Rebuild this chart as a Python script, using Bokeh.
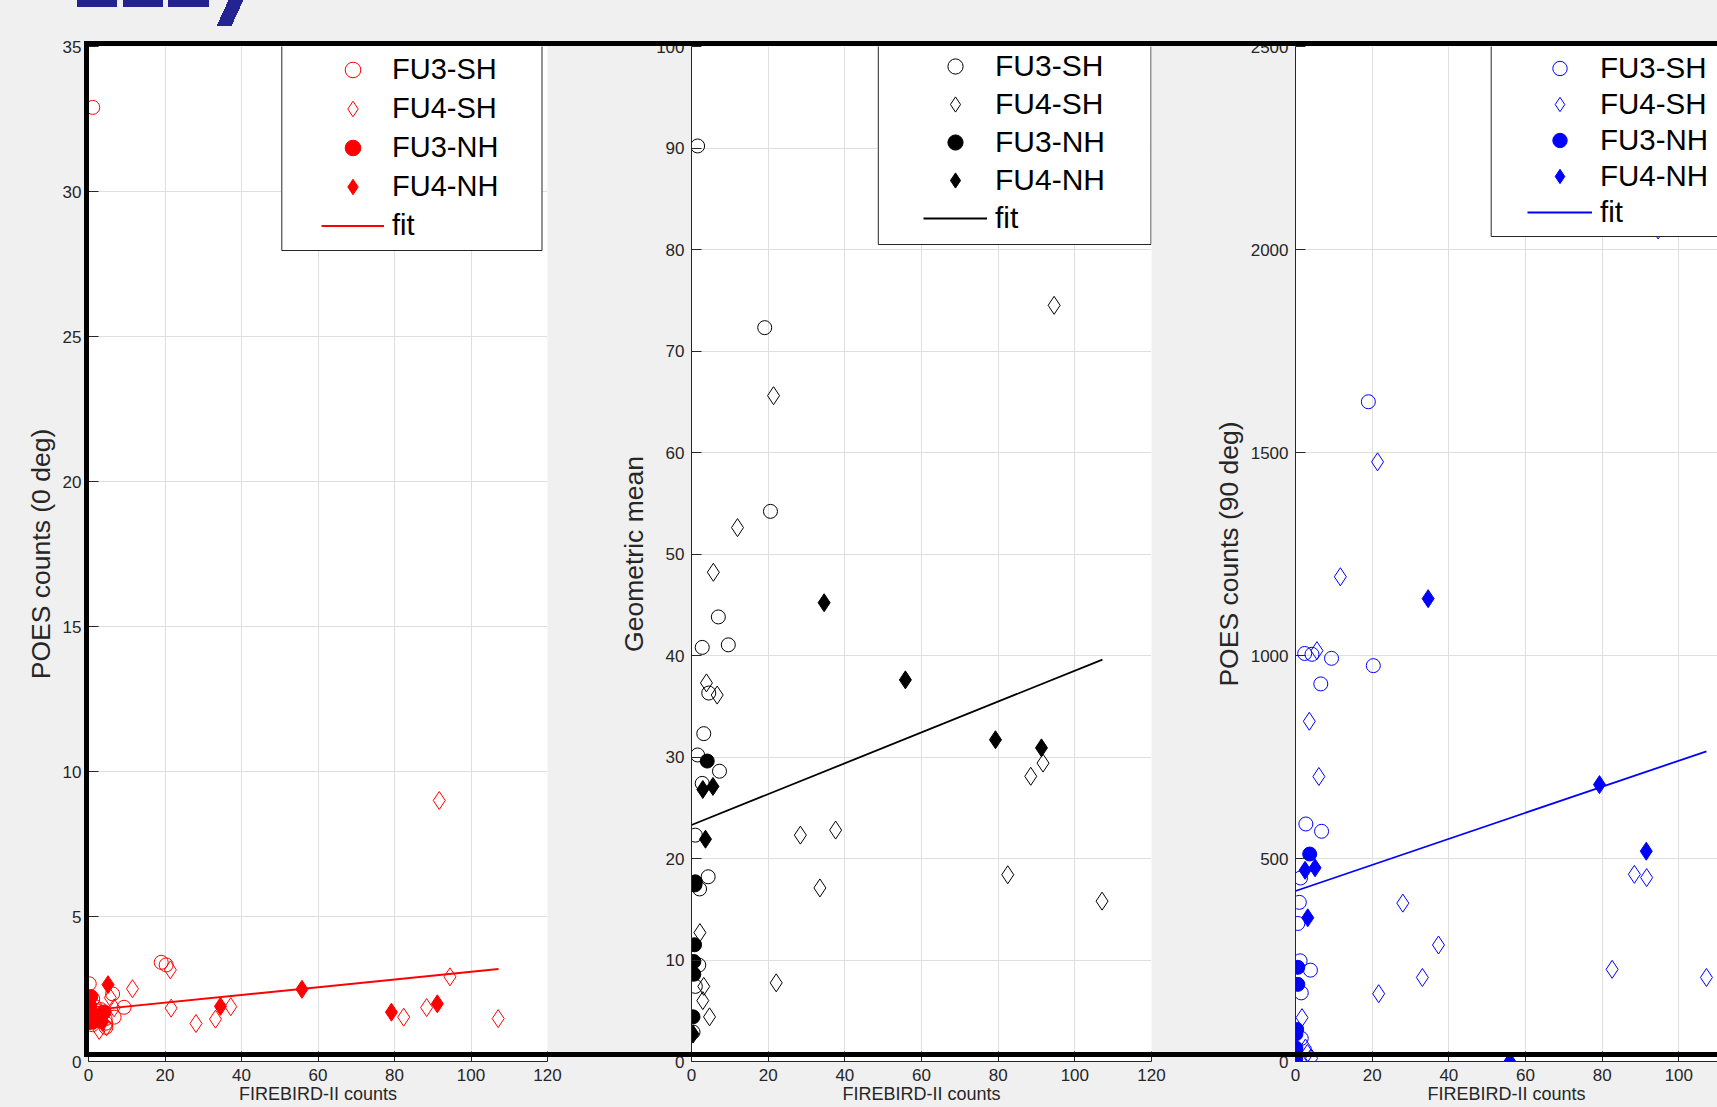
from bokeh.plotting import figure
from bokeh.layouts import row
from bokeh.models import (Range1d, FixedTicker, Legend, LegendItem, BoxAnnotation)
from bokeh.embed import file_html
from bokeh.resources import INLINE

# ---------------- data ----------------
x_ticks = [0, 20, 40, 60, 80, 100, 120]
series_names = ["FU3-SH", "FU4-SH", "FU3-NH", "FU4-NH", "fit"]
x_label = "FIREBIRD-II counts"

# Panel 1: POES counts (0 deg)
p1_ylabel = "POES counts (0 deg)"
p1_yticks = [0, 5, 10, 15, 20, 25, 30, 35]
p1_fu3sh_x = [1.1, 19.0, 20.3, 0.2, 1.1, 6.3, 9.3, 6.7, 4.55, 2.8, 4.5, 3.2, 1.0, 4.35, 2.1, 1.6, 2.8]
p1_fu3sh_y = [32.9, 3.42, 3.33, 2.68, 2.16, 2.33, 1.87, 1.53, 1.18, 1.66, 1.32, 1.79, 1.27, 1.47, 1.75, 1.9, 1.4]
p1_fu4sh_x = [11.5, 21.4, 21.6, 28.1, 33.2, 37.2, 82.4, 88.4, 94.5, 91.7, 107.1, 2.8, 5.7, 3.9, 6.7, 2.2, 3.2, 4.7]
p1_fu4sh_y = [2.51, 3.16, 1.84, 1.31, 1.46, 1.89, 1.53, 1.86, 2.92, 9.0, 1.48, 1.07, 2.2, 1.6, 1.85, 1.5, 1.65, 1.2]
p1_fu3nh_x = [4.1, 1.0, 0.9, 0.8, 0.6, 0.6, 0.4]
p1_fu3nh_y = [1.71, 1.35, 1.59, 1.67, 1.43, 2.24, 1.9]
p1_fu4nh_x = [34.5, 55.8, 79.2, 91.2, 5.1, 2.95, 3.65, 0.4]
p1_fu4nh_y = [1.9, 2.49, 1.70, 1.99, 2.65, 1.54, 1.35, 1.4]
p1_fit_x = [0.0, 107.2]
p1_fit_y = [1.76, 3.19]

# Panel 2: Geometric mean
p2_ylabel = "Geometric mean"
p2_yticks = [0, 10, 20, 30, 40, 50, 60, 70, 80, 90, 100]
p2_fu3sh_x = [1.6, 19.1, 20.6, 7.0, 2.8, 9.6, 4.5, 3.2, 1.6, 7.3, 2.8, 1.0, 4.35, 2.1, 1.9, 1.0, 0.4]
p2_fu3sh_y = [90.2, 72.3, 54.2, 43.8, 40.8, 41.05, 36.3, 32.3, 30.2, 28.6, 27.4, 22.3, 18.2, 17.0, 9.5, 7.4, 2.9]
p2_fu4sh_x = [12.0, 21.4, 5.7, 3.9, 6.7, 94.6, 88.5, 91.7, 28.4, 37.6, 33.5, 82.5, 107.1, 22.1, 2.2, 3.2, 2.95, 4.7]
p2_fu4sh_y = [52.6, 65.6, 48.2, 37.3, 36.1, 74.5, 28.1, 29.4, 22.3, 22.8, 17.1, 18.4, 15.8, 7.75, 12.7, 7.4, 6.0, 4.4]
p2_fu3nh_x = [4.1, 1.0, 0.9, 0.8, 0.6, 0.6, 0.4]
p2_fu3nh_y = [29.6, 17.7, 17.4, 11.5, 9.85, 8.6, 4.4]
p2_fu4nh_x = [34.6, 55.8, 79.3, 91.3, 2.95, 5.6, 3.65, 0.4]
p2_fu4nh_y = [45.2, 37.6, 31.7, 30.9, 26.8, 27.1, 21.9, 2.7]
p2_fit_x = [0.0, 107.2]
p2_fit_y = [23.3, 39.6]

# Panel 3: POES counts (90 deg)
p3_ylabel = "POES counts (90 deg)"
p3_yticks = [0, 500, 1000, 1500, 2000, 2500]
p3_fu3sh_x = [19.0, 2.4, 4.3, 9.4, 20.3, 6.6, 2.7, 6.8, 1.3, 1.0, 0.6, 3.9, 1.5, 1.5, 1.2]
p3_fu3sh_y = [1625, 1005, 1003, 993, 975, 930, 585, 567, 452, 392, 340, 225, 169, 57, 248]
p3_fu4sh_x = [21.4, 11.7, 5.6, 3.6, 6.1, 28.0, 37.3, 33.1, 21.7, 82.6, 88.4, 91.6, 107.2, 94.6, 1.7, 2.6, 4.2, 3.1]
p3_fu4sh_y = [1477, 1194, 1012, 838, 702, 390, 287, 207, 167, 227, 461, 453, 207, 2048, 108, 33, 8, 20]
p3_fu3nh_x = [3.7, 0.6, 0.6, 0.3, 0.1, 0.1, 0.05]
p3_fu3nh_y = [511, 232, 190, 79, 68, 33, 5]
p3_fu4nh_x = [34.6, 55.9, 79.3, 91.5, 2.5, 5.1, 3.2, 0.05]
p3_fu4nh_y = [1140, 0, 682, 518, 471, 477, 354, 18]
p3_fit_x = [0.0, 107.2]
p3_fit_y = [420, 764]

# ---------------- styling / layout ----------------
BG = "#f0f0f0"
AX = "#262626"
GRID = "#dfdfdf"
NAVY = "#232392"
FONT = "Liberation Sans"
TOTAL_H = 1107
FRAME_TOP = 46
BOTTOM = 46
FRAME_BOTTOM = TOTAL_H - BOTTOM

panels = [
    dict(data=(p1_fu3sh_x, p1_fu3sh_y, p1_fu4sh_x, p1_fu4sh_y, p1_fu3nh_x, p1_fu3nh_y,
               p1_fu4nh_x, p1_fu4nh_y, p1_fit_x, p1_fit_y),
         ylabel=p1_ylabel, yticks=p1_yticks, color="#ff0000",
         canvas_left=0, bl=88, fw=459, br=63, x_end=120,
         leg=dict(glyph_left=321, glyph_w=63, standoff=8, row_h=39, first_top=50,
                  box=(281.3, 541.5, 30, 250), fs="29px")),
    dict(data=(p2_fu3sh_x, p2_fu3sh_y, p2_fu4sh_x, p2_fu4sh_y, p2_fu3nh_x, p2_fu3nh_y,
               p2_fu4nh_x, p2_fu4nh_y, p2_fit_x, p2_fit_y),
         ylabel=p2_ylabel, yticks=p2_yticks, color="#000000",
         canvas_left=610, bl=81, fw=460, br=49, x_end=120,
         leg=dict(glyph_left=923, glyph_w=64, standoff=8, row_h=38, first_top=47,
                  box=(877.8, 1150.5, 30, 244), fs="30px")),
    dict(data=(p3_fu3sh_x, p3_fu3sh_y, p3_fu4sh_x, p3_fu4sh_y, p3_fu3nh_x, p3_fu3nh_y,
               p3_fu4nh_x, p3_fu4nh_y, p3_fit_x, p3_fit_y),
         ylabel=p3_ylabel, yticks=p3_yticks, color="#0000ff",
         canvas_left=1200, bl=95, fw=422, br=0, x_end=120 * 422 / 460,
         leg=dict(glyph_left=1527, glyph_w=65, standoff=8, row_h=36, first_top=50,
                  box=(1490.7, 1780, 30, 236), fs="29.5px")),
]

figs = []
for i, cfg in enumerate(panels):
    width = cfg["bl"] + cfg["fw"] + cfg["br"]
    p = figure(width=width, height=TOTAL_H,
               min_border_left=cfg["bl"], min_border_right=cfg["br"],
               min_border_top=FRAME_TOP, min_border_bottom=BOTTOM,
               x_range=Range1d(0, cfg["x_end"]), y_range=Range1d(cfg["yticks"][0], cfg["yticks"][-1]),
               output_backend="svg", toolbar_location=None,
               background_fill_color="white", border_fill_color=BG,
               outline_line_color=None,
               stylesheets=[":host { background-color: %s; }" % BG])
    p.xaxis.ticker = FixedTicker(ticks=x_ticks)
    p.yaxis.ticker = FixedTicker(ticks=cfg["yticks"])
    for ax in (p.xaxis[0], p.yaxis[0]):
        ax.axis_line_color = AX
        ax.axis_line_width = 1
        ax.major_tick_line_color = AX
        ax.major_tick_in = 10
        ax.major_tick_out = 0
        ax.minor_tick_line_color = None
        ax.major_label_text_font = FONT
        ax.major_label_text_font_size = "17px"
        ax.major_label_text_color = AX
    p.xaxis.major_label_standoff = 7
    p.yaxis.major_label_standoff = 7
    p.xaxis.axis_label = x_label
    p.xaxis.axis_label_standoff = 0
    p.xaxis.axis_label_text_font_size = "18px"
    p.yaxis.axis_label = cfg["ylabel"]
    p.yaxis.axis_label_text_font_size = "26.5px"
    p.yaxis.axis_label_standoff = 4
    for ax in (p.xaxis[0], p.yaxis[0]):
        ax.axis_label_text_font = FONT
        ax.axis_label_text_font_style = "normal"
        ax.axis_label_text_color = AX
    p.xgrid.grid_line_color = GRID
    p.ygrid.grid_line_color = GRID

    c = cfg["color"]
    (a_x, a_y, b_x, b_y, c_x, c_y, d_x, d_y, f_x, f_y) = cfg["data"]
    r1 = p.scatter(a_x, a_y, marker="circle", size=14, fill_color=None, line_color=c, line_width=1)
    r2 = p.scatter(b_x, b_y, marker="diamond", size=18, fill_color=None, line_color=c, line_width=1)
    r3 = p.scatter(c_x, c_y, marker="circle", size=14, fill_color=c, line_color=c, line_width=1)
    r4 = p.scatter(d_x, d_y, marker="diamond", size=18, fill_color=c, line_color=c, line_width=1)
    r5 = p.line(f_x, f_y, line_color=c, line_width=1.8)

    # legend frame
    lg = cfg["leg"]
    cl = cfg["canvas_left"]
    bx0, bx1, by0, by1 = lg["box"]
    p.add_layout(BoxAnnotation(left=bx0 - cl, right=bx1 - cl, top=by0, bottom=by1,
                               left_units="canvas", right_units="canvas",
                               top_units="canvas", bottom_units="canvas",
                               fill_color="white", fill_alpha=1.0,
                               line_color=AX, line_width=1, line_alpha=1.0, line_dash="solid"))
    items = [LegendItem(label=n, renderers=[r]) for n, r in zip(series_names, [r1, r2, r3, r4, r5])]
    vx = lg["glyph_left"] - (cl + cfg["bl"])
    vy = FRAME_BOTTOM - (lg["first_top"] + 5 * lg["row_h"])
    leg = Legend(items=items, location=(vx, vy), margin=0, padding=0, spacing=0,
                 glyph_width=lg["glyph_w"], glyph_height=lg["row_h"], label_height=lg["row_h"],
                 label_standoff=lg["standoff"], label_text_font=FONT,
                 label_text_font_size=lg["fs"], label_text_color="black",
                 background_fill_alpha=0, border_line_color=None)
    p.add_layout(leg)
    figs.append(p)

# page decorations drawn over the whole row: grey strip with the cut-off navy heading at the
# top, and the thick black frame that runs across all three panels
overlay_css = """
:host { position: relative; background-color: %(bg)s; }
:host::before {
  content: ""; position: absolute; left: 0px; top: 0px; width: 1717px; height: 41px;
  z-index: 10; pointer-events: none;
  background-color: %(bg)s;
  background-image:
    linear-gradient(114.8deg, transparent 32.2%%, %(navy)s 32.2%%, %(navy)s 67.8%%, transparent 67.8%%),
    linear-gradient(%(navy)s, %(navy)s), linear-gradient(%(navy)s, %(navy)s),
    linear-gradient(%(navy)s, %(navy)s);
  background-size: 30px 26px, 40px 7px, 40px 7px, 41px 7px;
  background-position: 215px 0px, 77px 0px, 123px 0px, 168px 0px;
  background-repeat: no-repeat;
}
:host::after {
  content: ""; position: absolute; left: 83.5px; top: 41px; width: 1700px; height: 1016px;
  box-sizing: border-box; border: 5px solid #000000; z-index: 11; pointer-events: none;
}
""" % dict(bg=BG, navy=NAVY)

layout = row(*figs, spacing=0, stylesheets=[overlay_css])
open("out.html", "w").write(file_html(layout, INLINE))
